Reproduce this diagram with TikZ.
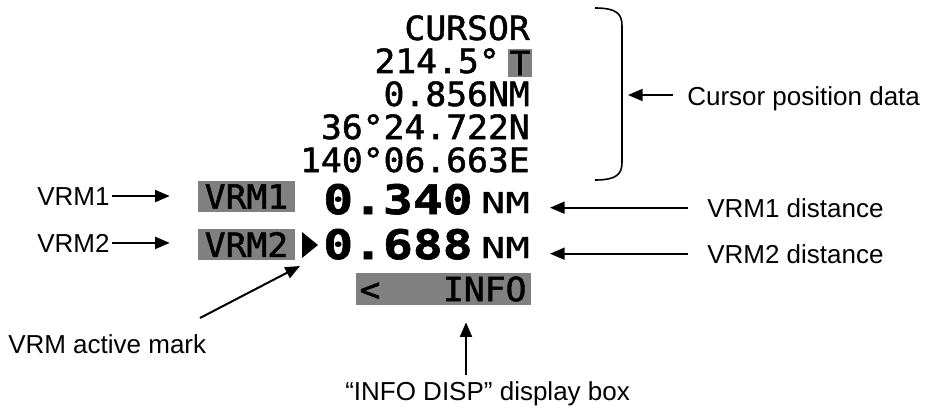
\documentclass[tikz,border=0pt]{standalone}
\usepackage{fontspec}
\setmainfont{Liberation Sans}
\newfontfamily\lcdfont[FakeStretch=1.04, FakeBold=1.5]{DejaVu Sans Mono}
\newfontfamily\bigfont[FakeStretch=1.22, FakeBold=1.5]{DejaVu Sans Mono}
\newfontfamily\nmfont[FakeStretch=1.4, FakeBold=1.2]{DejaVu Sans Mono}
\usetikzlibrary{arrows.meta}

\begin{document}
\begin{tikzpicture}[x=0.75pt, y=-0.75pt,
	lbl/.style = {font=\fontsize{19.5}{23}\selectfont, inner sep=0pt},
	lcd/.style = {font=\fontsize{25}{28}\selectfont\lcdfont, inner sep=0pt},
	digits/.style = {font=\fontsize{30.5}{34}\selectfont\bigfont\bfseries, inner sep=0pt},
	unit/.style = {font=\fontsize{21.6}{24}\selectfont\nmfont, inner sep=0pt},
	hilite/.style = {lcd, fill=gray},
	arr/.style = {line width=1.5pt, -{Triangle[length=11pt,width=9pt]}}]
		\useasboundingbox (0,0) rectangle (928,410);
		
		% cursor data
		\node[lcd, anchor=base east] (curA) at (530,40) {CURSOR};
		\node[lcd, anchor=base east] (curB) at (500,73) {214.5°};
		\node[hilite, minimum width=18pt, minimum height=21pt] (tmark) at (520,63) {T};
		\node[lcd, anchor=base east] (curC) at (530,106) {0.856NM};
		\node[lcd, anchor=base east] (curD) at (530,139) {36°24.722N};
		\node[lcd, anchor=base east] (curE) at (530,172) {140°06.663E};
		
		% VRM rows
		\node[hilite, minimum width=72.75pt, minimum height=23.25pt] (vrmA) at (246.5,196.5) {VRM1};
		\node[hilite, minimum width=72.75pt, minimum height=23.25pt] (vrmB) at (246.5,244.5) {VRM2};
		\node[digits, anchor=base west] (distA) at (323,214) {0.340};
		\node[digits, anchor=base west] (distB) at (323,259) {0.688};
		\node[unit, anchor=base east] (nmA) at (530,213) {NM};
		\node[unit, anchor=base east] (nmB) at (530,258) {NM};
		\fill (302,232) -- (318,245) -- (302,258) -- cycle;
		\node[hilite, minimum width=131.25pt, minimum height=24pt] (info) at (443,289) {<\ \ \ INFO};
		
		% bracket
		\draw[line width=1.2pt] (595,8) .. controls (617,8) and (622,14) .. (622,26) -- (622,162) .. controls (622,174) and (617,180) .. (595,180);
		\coordinate (bmid) at (628,95);
		
		% labels
		\node[lbl, anchor=base west] (curlbl) at (687,105) {Cursor position data};
		\node[lbl, anchor=base west] (dlblA) at (707,217) {VRM1 distance};
		\node[lbl, anchor=base west] (dlblB) at (707,263) {VRM2 distance};
		\node[lbl, anchor=base west] (lblA) at (37,205) {VRM1};
		\node[lbl, anchor=base west] (lblB) at (37,252) {VRM2};
		\node[lbl, anchor=base west] (actlbl) at (8,353) {VRM active mark};
		\node[lbl, anchor=base west] (infolbl) at (345,400) {“INFO DISP” display box};
		\coordinate (actfoot) at (200,318);
		\coordinate (acttip) at (300,266);
		\coordinate (infofoot) at (466,375);
		
		\draw[arr, shorten <=10.5pt] (curlbl.west |- bmid) -- (bmid);
		\draw[arr, shorten <=14pt, shorten >=15pt] (dlblA.west) -- (nmA.east |- dlblA.west);
		\draw[arr, shorten <=14pt, shorten >=15pt] (dlblB.west) -- (nmB.east |- dlblB.west);
		\draw[arr, shorten <=2pt, shorten >=21pt] (lblA.east) -- (vrmA.west |- lblA.east);
		\draw[arr, shorten <=2pt, shorten >=21pt] (lblB.east) -- (vrmB.west |- lblB.east);
		\draw[arr] (actfoot) -- (acttip);
		\draw[arr, shorten >=12.75pt] (infofoot) -- (infofoot |- info.south);
	\end{tikzpicture}
\end{document}
